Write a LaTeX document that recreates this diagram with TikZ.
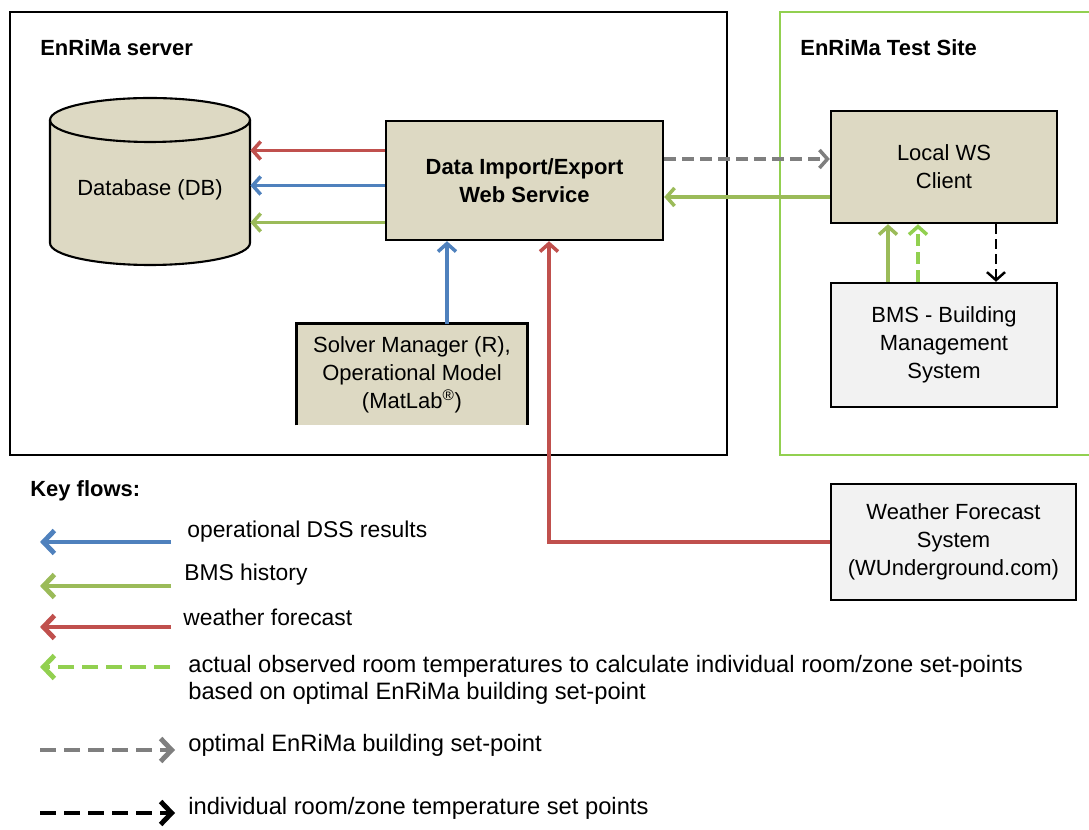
\documentclass[tikz,border=0pt]{standalone}
\usepackage{fontspec}
\setmainfont{Liberation Sans}
\usetikzlibrary{arrows.meta}
\definecolor{boxtan}{HTML}{DDD9C3}
\definecolor{boxgrey}{HTML}{F2F2F2}
\definecolor{flowred}{HTML}{C0504D}
\definecolor{flowblue}{HTML}{4F81BD}
\definecolor{flowgreen}{HTML}{9BBB59}
\definecolor{flowlime}{HTML}{92D050}
\definecolor{flowgrey}{HTML}{7F7F7F}

\begin{document}
\begin{tikzpicture}[x=0.02cm,y=-0.02cm,
    every node/.style={font=\fontsize{12.5}{16}\selectfont,align=center},
    title/.style={anchor=west,inner sep=0pt,font=\fontsize{12.5}{16}\selectfont\bfseries},
    keytext/.style={anchor=west,inner sep=0pt,align=left,font=\fontsize{13}{15}\selectfont},
    block/.style={draw,line width=1.4pt,fill=boxtan,inner sep=0pt},
    greyblock/.style={block,fill=boxgrey},
    flowline/.style={line width=2pt,-{Straight Barb[length=1.6mm,width=3.6mm]}},
    keyline/.style={line width=2.8pt,-{Straight Barb[length=2.2mm,width=4.6mm]}},
    dashgrey/.style={flowgrey,dash pattern=on 2.4mm off 1.2mm},
    dashlime/.style={flowlime,dash pattern=on 2.4mm off 1.2mm},
    dashblack/.style={black,dash pattern=on 2mm off 1mm}]
  \useasboundingbox (0,0) rectangle (1089,830);

  \draw[line width=1.6pt] (10,12) rectangle (727,455);
  \draw[flowlime,line width=1.4pt] (1089,12) -- (780,12) -- (780,455) -- (1089,455);
  \node[title] (server) at (40,48) {EnRiMa server};
  \node[title] (site) at (800,48) {EnRiMa Test Site};

  \path[fill=boxtan] (50,120) -- (50,243) arc[start angle=180,end angle=360,x radius=2cm,y radius=0.44cm]
    -- (250,120) arc[start angle=0,end angle=180,x radius=2cm,y radius=0.44cm] -- cycle;
  \draw[line width=1.2pt] (50,120) -- (50,243) arc[start angle=180,end angle=360,x radius=2cm,y radius=0.44cm] -- (250,120);
  \draw[line width=1.2pt] (150,120) ellipse[x radius=2cm,y radius=0.44cm];
  \node[minimum width=4cm,inner sep=0pt] (db) at (150,190) {Database (DB)};

  \node[block,minimum width=5.54cm,minimum height=2.38cm,font=\fontsize{12.5}{16}\selectfont\bfseries] (die) at (524.5,180.5) {Data Import/Export\\Web Service};
  \node[fill=boxtan,minimum width=4.6cm,minimum height=2.02cm,inner sep=0pt] (solver) at (412,374.5) {Solver Manager (R),\\Operational Model\\(MatLab\textsuperscript{®})};
  \draw[line width=1.4pt] (solver.south west) |- (solver.north east) -- (solver.south east);
  \node[block,minimum width=4.52cm,minimum height=2.24cm] (lws) at (944,167) {Local WS\\Client};
  \node[greyblock,minimum width=4.52cm,minimum height=2.48cm] (bms) at (944,345) {BMS - Building\\Management\\System};
  \node[greyblock,minimum width=4.9cm,minimum height=2.32cm] (wf) at (953.5,542) {Weather Forecast\\System\\(WUnderground.com)};

  \draw[flowline,flowred] ([yshift=6mm]die.west) -- ([yshift=6mm]die.west -| db.east);
  \draw[flowline,flowblue] ([yshift=-1mm]die.west) -- ([yshift=-1mm]die.west -| db.east);
  \draw[flowline,flowgreen] ([yshift=-8.4mm]die.west) -- ([yshift=-8.4mm]die.west -| db.east);
  \draw[flowline,flowblue] ([xshift=7mm]solver.north) -- ([xshift=7mm]solver.north |- die.south);
  \draw[flowline,flowred] (wf.west) -| ([xshift=4.9mm]die.south);
  \draw[flowline,dashgrey] ([yshift=1.6mm]lws.west -| die.east) -- ([yshift=1.6mm]lws.west);
  \draw[flowline,flowgreen] ([yshift=-6mm]lws.west) -- ([yshift=-6mm]lws.west -| die.east);
  \draw[flowline,flowgreen] ([xshift=-11.2mm]bms.north) -- ([xshift=-11.2mm]bms.north |- lws.south);
  \draw[flowline,dashlime] ([xshift=-5.2mm]bms.north) -- ([xshift=-5.2mm]bms.north |- lws.south);
  \draw[flowline,dashblack,line width=1.4pt] ([xshift=10.4mm]lws.south) -- ([xshift=10.4mm]lws.south |- bms.north);

  \node[title] (keys) at (30,491) {Key flows:};
  \node[keytext] (kdss) at (187,532) {operational DSS results};
  \node[keytext] (kbms) at (184,575) {BMS history};
  \node[keytext] (kwf) at (183,617) {weather forecast};
  \node[keytext,font=\fontsize{13.5}{15}\selectfont] (kroom) at (188,680) {actual observed room temperatures to calculate individual room/zone set-points\\based on optimal EnRiMa building set-point};
  \node[keytext,font=\fontsize{13.5}{15}\selectfont] (kset) at (188,745) {optimal EnRiMa building set-point};
  \node[keytext,font=\fontsize{13.5}{15}\selectfont] (kzone) at (188,808) {individual room/zone temperature set points};

  \draw[keyline,flowblue] ([shift={(-0.32cm,-0.2cm)}]kdss.west) -- ++(-2.62cm,0);
  \draw[keyline,flowgreen] ([shift={(-0.26cm,-0.22cm)}]kbms.west) -- ++(-2.62cm,0);
  \draw[keyline,flowred] ([shift={(-0.24cm,-0.2cm)}]kwf.west) -- ++(-2.62cm,0);
  \draw[keyline,flowlime,dash pattern=on 3.2mm off 1.6mm] ([shift={(-0.36cm,0.26cm)}]kroom.west) -- ++(-2.6cm,0);
  \draw[keyline,flowgrey,dash pattern=on 3.2mm off 1.6mm] ([shift={(-2.96cm,-0.1cm)}]kset.west) -- ++(2.7cm,0);
  \draw[keyline,black,dash pattern=on 3.2mm off 1.6mm] ([shift={(-2.96cm,-0.1cm)}]kzone.west) -- ++(2.7cm,0);
\end{tikzpicture}
\end{document}
